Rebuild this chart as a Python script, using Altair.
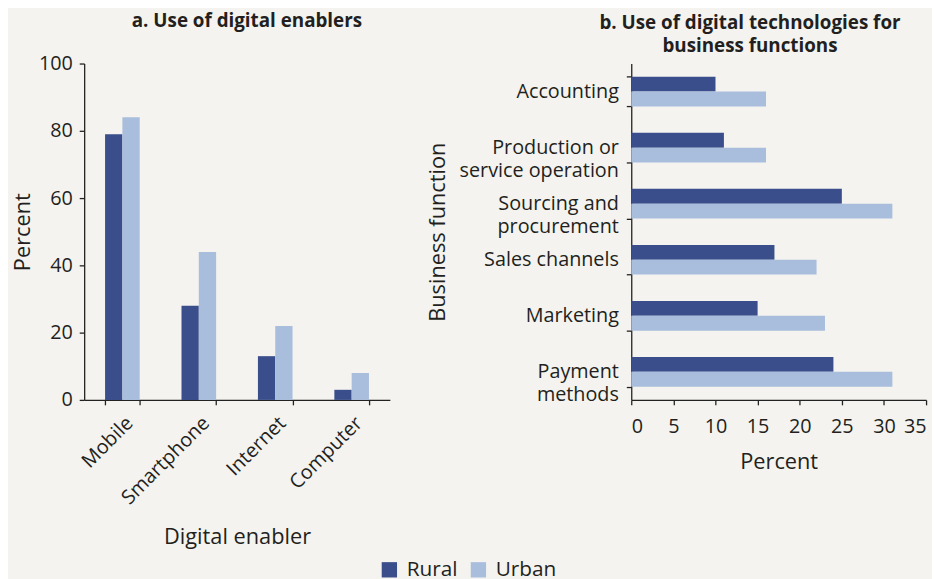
import altair as alt
import pandas as pd

# ---- data ----
series = ["Rural", "Urban"]
series_colors = ["#394e8b", "#a9bedd"]

enablers = ["Mobile", "Smartphone", "Internet", "Computer"]
enabler_rural = [79, 28, 13, 3]
enabler_urban = [84, 44, 22, 8]

functions = [
    "Accounting",
    "Production or|service operation",
    "Sourcing and|procurement",
    "Sales channels",
    "Marketing",
    "Payment|methods",
]
function_rural = [10, 11, 25, 17, 15, 24]
function_urban = [16, 16, 31, 22, 23, 31]

percent_ticks_a = [0, 20, 40, 60, 80, 100]
percent_ticks_b = [0, 5, 10, 15, 20, 25, 30, 35]

df_a = pd.DataFrame(
    [{"enabler": e, "area": "Rural", "value": v} for e, v in zip(enablers, enabler_rural)]
    + [{"enabler": e, "area": "Urban", "value": v} for e, v in zip(enablers, enabler_urban)]
)
df_b = pd.DataFrame(
    [{"function": f, "area": "Rural", "value": v} for f, v in zip(functions, function_rural)]
    + [{"function": f, "area": "Urban", "value": v} for f, v in zip(functions, function_urban)]
)

FONT = "Open Sans"
TXT = "#231f20"

color = alt.Color(
    "area:N",
    scale=alt.Scale(domain=series, range=series_colors),
    legend=alt.Legend(
        title=None,
        orient="none",
        legendX=298,
        legendY=501,
        direction="horizontal",
        symbolType="square",
        symbolSize=240,
        symbolStrokeWidth=0,
        labelFontSize=21,
        labelFont=FONT,
        labelColor=TXT,
        columnPadding=10,
        labelOffset=7,
    ),
)

left = (
    alt.Chart(df_a)
    .mark_bar()
    .encode(
        x=alt.X(
            "enabler:N",
            sort=enablers,
            scale=alt.Scale(paddingInner=0.547, paddingOuter=0.2735),
            axis=alt.Axis(
                title="Digital enabler",
                labelAngle=-45,
                labelAlign="right",
                labelBaseline="top",
                labelPadding=8,
                tickBand="extent",
                titlePadding=19,
            ),
        ),
        xOffset=alt.XOffset("area:N", sort=series, scale=alt.Scale(paddingInner=0, paddingOuter=0)),
        y=alt.Y(
            "value:Q",
            scale=alt.Scale(domain=[0, 100]),
            axis=alt.Axis(values=percent_ticks_a, title="Percent", grid=False, titlePadding=4),
        ),
        color=color,
    )
    .properties(
        width=309,
        height=340,
        title=alt.TitleParams("a. Use of digital enablers", frame="group", offset=23, dx=10),
    )
)

right = (
    alt.Chart(df_b)
    .mark_bar()
    .encode(
        y=alt.Y(
            "function:N",
            sort=functions,
            scale=alt.Scale(paddingInner=0.47, paddingOuter=0.235),
            axis=alt.Axis(
                title="Business function",
                tickBand="extent",
                labelExpr="isValid(datum.value) ? split(datum.label, '|') : ''",
                labelLineHeight=23,
                labelPadding=8,
                titlePadding=10,
            ),
        ),
        yOffset=alt.YOffset("area:N", sort=series, scale=alt.Scale(paddingInner=0, paddingOuter=0)),
        x=alt.X(
            "value:Q",
            scale=alt.Scale(domain=[0, 35]),
            axis=alt.Axis(values=percent_ticks_b, title="Percent", grid=False, labelPadding=12, titlePadding=15),
        ),
        color=color,
    )
    .properties(
        width=298,
        height=340,
        title=alt.TitleParams(
            ["b. Use of digital technologies for", "business functions"],
            frame="group",
            offset=0,
            dy=2,
            dx=-29,
        ),
    )
)

chart = (
    alt.hconcat(left, right, spacing=36)
    .properties(padding={"left": 3, "top": 1, "right": 5, "bottom": 5})
    .configure(background="#f4f3ef", font=FONT)
    .configure_view(stroke=None)
    .configure_title(font=FONT, fontSize=19, fontWeight="bold", color=TXT, anchor="middle", lineHeight=23)
    .configure_axis(
        labelFont=FONT,
        labelFontSize=20,
        labelColor=TXT,
        titleFont=FONT,
        titleFontSize=22,
        titleFontWeight="normal",
        titleColor=TXT,
        domainColor="#222222",
        tickColor="#222222",
        domainWidth=1.3,
        tickWidth=1.3,
        tickSize=5,
        labelPadding=7,
    )
)

chart.save("out.html", embed_options={"renderer": "svg", "actions": False})
